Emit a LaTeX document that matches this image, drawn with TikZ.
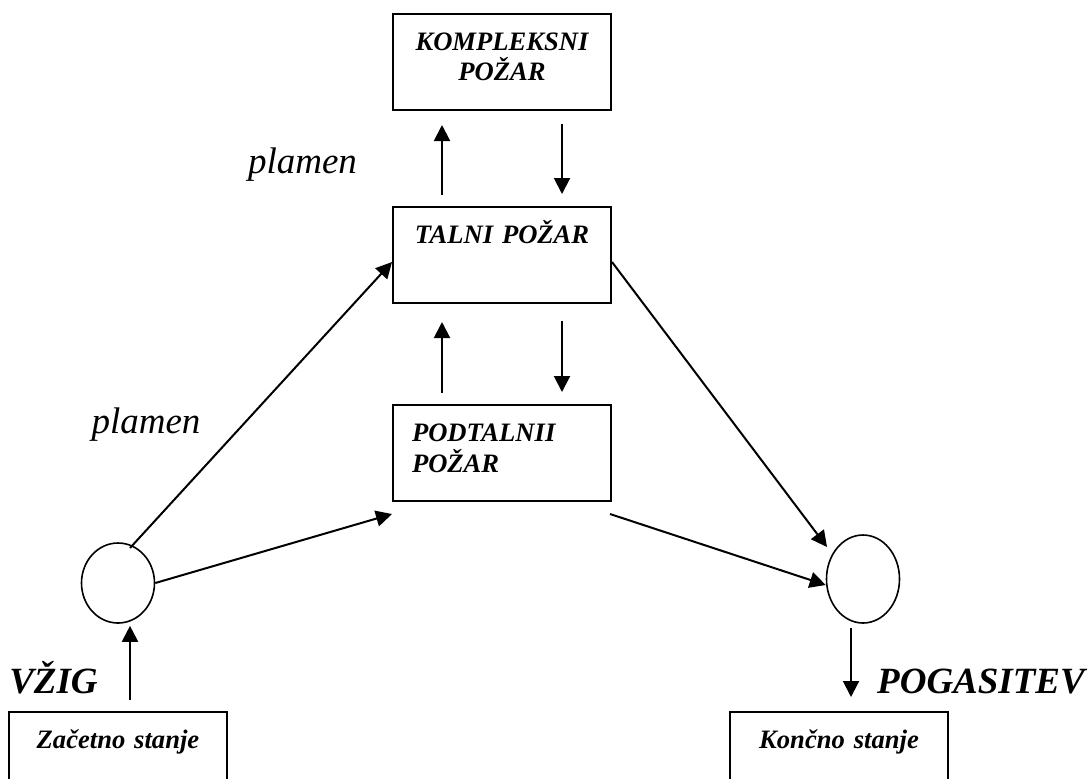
\documentclass[tikz,border=0pt]{standalone}
\usepackage{fontspec}
\setmainfont{Liberation Serif}
\usetikzlibrary{arrows.meta,shapes.geometric}
\tikzset{
  box/.style     = {shape=rectangle, draw, line width=1pt, anchor=north,
                    text width=90pt, inner xsep=9.5pt, inner ysep=8pt,
                    text height=10pt, text depth=22pt, align=center,
                    font=\fontsize{13.3}{15}\selectfont\bfseries\itshape},
  endbox/.style  = {box, text depth=45pt},
  krog/.style    = {shape=ellipse, draw, line width=0.8pt, inner sep=0pt,
                    minimum width=36.5pt, minimum height=40pt},
  plamen/.style  = {anchor=base, font=\fontsize{18.5}{22}\selectfont\itshape},
  dogodek/.style = {anchor=base, font=\fontsize{18.5}{22}\selectfont\bfseries\itshape}
}
\begin{document}
\begin{tikzpicture}
  [
    x                = 0.5pt,
    y                = -0.5pt,
    tok/.style       = {draw, line width=1pt, -{Triangle[length=8pt,width=8pt]}}
  ]
  \useasboundingbox (0,0) rectangle (1090,778);
  \clip (0,0) rectangle (1090,778);

  \node [box] (kompleksni) at (502,13) {KOMPLEKSNI\\POŽAR};
  \node [box] (talni) at (502,206) {TALNI POŽAR};
  \node [box, align=left, font=\fontsize{13.3}{15.5}\selectfont\bfseries\itshape] (podtalni) at (502,404) {PODTALNII\\POŽAR};
  \node [endbox] (zacetno) at (118,711) {Začetno stanje};
  \node [endbox] (koncno) at (839,711) {Končno stanje};
  \node [krog] (zacetek) at (118,583) {};
  \node [krog, minimum height=44pt] (konec) at (863,579) {};

  \node [plamen] (plamen1) at (302.5,173) {plamen};
  \node [plamen] (plamen2) at (146,433) {plamen};
  \node [dogodek] (vzig) at (53.5,693) {VŽIG};
  \node [dogodek] (pogasitev) at (981,693) {POGASITEV};

  \draw [tok, shorten <=5.5pt, shorten >=7pt] ([xshift=-30pt]talni.north) -- ([xshift=-30pt]kompleksni.south);
  \draw [tok, shorten <=6.5pt, shorten >=6pt] ([xshift=30pt]kompleksni.south) -- ([xshift=30pt]talni.north);
  \draw [tok, shorten <=5.5pt, shorten >=9pt] ([xshift=-30pt]podtalni.north) -- ([xshift=-30pt]talni.south);
  \draw [tok, shorten <=8.5pt, shorten >=6pt] ([xshift=30pt]talni.south) -- ([xshift=30pt]podtalni.north);
  \draw [tok] ([shift={(6pt,17.5pt)}]zacetek.center) -- ([yshift=-3.5pt]talni.west);
  \draw [tok] (zacetek.east) -- ([yshift=-6pt]podtalni.south west);
  \draw [tok] ([yshift=-3.5pt]talni.east) -- ([shift={(-18pt,16pt)}]konec.center);
  \draw [tok] ([shift={(-1pt,-6pt)}]podtalni.south east) -- ([yshift=-3pt]konec.west);
  \draw [tok, shorten <=2pt, shorten >=7pt] ([xshift=-6pt]konec.south) -- ([xshift=6pt]koncno.north);
  \draw [tok, shorten <=5.5pt, shorten >=1pt] ([xshift=6pt]zacetno.north) -- ([xshift=6pt]zacetek.south);
\end{tikzpicture}
\end{document}
